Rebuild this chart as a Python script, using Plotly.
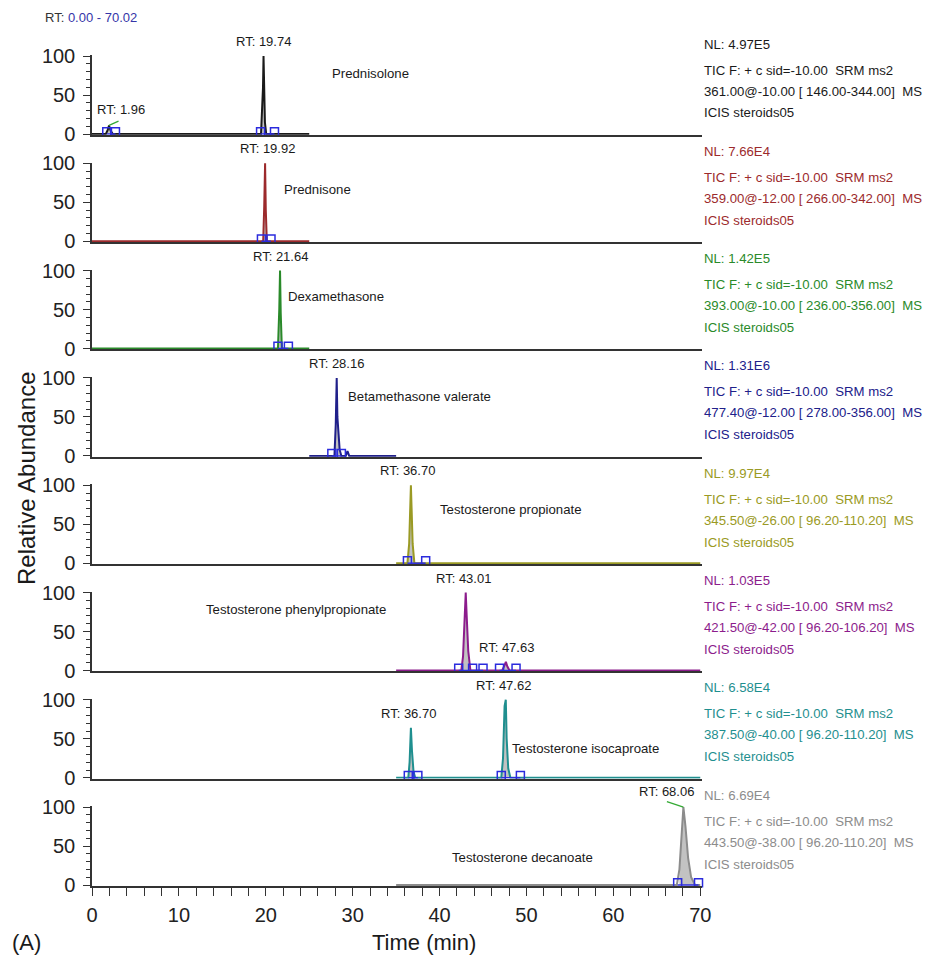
import plotly.graph_objects as go
from plotly.subplots import make_subplots

# ---------------- data ----------------
compounds = ["Prednisolone", "Prednisone", "Dexamethasone", "Betamethasone valerate",
             "Testosterone propionate", "Testosterone phenylpropionate",
             "Testosterone isocaproate", "Testosterone decanoate"]

nl_values = ["NL: 4.97E5", "NL: 7.66E4", "NL: 1.42E5", "NL: 1.31E6",
             "NL: 9.97E4", "NL: 1.03E5", "NL: 6.58E4", "NL: 6.69E4"]
tic_line = "TIC F: + c sid=-10.00  SRM ms2"
srm_lines = ["361.00@-10.00 [ 146.00-344.00]  MS",
             "359.00@-12.00 [ 266.00-342.00]  MS",
             "393.00@-10.00 [ 236.00-356.00]  MS",
             "477.40@-12.00 [ 278.00-356.00]  MS",
             "345.50@-26.00 [ 96.20-110.20]  MS",
             "421.50@-42.00 [ 96.20-106.20]  MS",
             "387.50@-40.00 [ 96.20-110.20]  MS",
             "443.50@-38.00 [ 96.20-110.20]  MS"]
file_line = "ICIS steroids05"

time_1 = [0, 1.60, 1.80, 1.96, 2.15, 2.40, 19.45, 19.60, 19.68, 19.74, 19.80, 19.90, 20.05, 25.0]
abund_1 = [0, 0, 5, 11, 4, 0, 0, 35, 60, 100, 45, 15, 0, 0]
time_2 = [0, 19.70, 19.82, 19.92, 20.00, 20.12, 25.0]
abund_2 = [0, 0, 45, 100, 40, 0, 0]
time_3 = [0, 21.40, 21.55, 21.64, 21.72, 21.85, 25.0]
abund_3 = [0, 0, 50, 100, 45, 0, 0]
time_4 = [25.0, 27.90, 28.05, 28.16, 28.24, 28.35, 28.50, 28.70, 29.20, 29.40, 29.60, 35.0]
abund_4 = [0, 0, 40, 100, 50, 25, 8, 0, 0, 6, 0, 0]
time_5 = [35.0, 36.30, 36.50, 36.62, 36.70, 36.78, 36.90, 37.10, 70.0]
abund_5 = [0, 0, 25, 75, 100, 70, 25, 0, 0]
time_6 = [35.0, 42.50, 42.70, 42.88, 43.01, 43.12, 43.30, 43.55, 47.20, 47.45, 47.63, 47.80, 48.05, 70.0]
abund_6 = [0, 0, 18, 75, 100, 70, 25, 0, 0, 6, 11, 5, 0, 0]
time_7 = [35.0, 36.40, 36.55, 36.70, 36.82, 37.00, 37.20, 47.10, 47.30, 47.48, 47.62, 47.72, 47.90, 48.15, 70.0]
abund_7 = [0, 0, 20, 64, 35, 8, 0, 0, 25, 92, 100, 50, 12, 0, 0]
time_8 = [35.0, 67.30, 67.60, 67.85, 68.06, 68.30, 68.60, 68.95, 69.40, 70.0]
abund_8 = [0, 0, 20, 65, 100, 75, 35, 10, 0, 0]

times = [time_1, time_2, time_3, time_4, time_5, time_6, time_7, time_8]
abunds = [abund_1, abund_2, abund_3, abund_4, abund_5, abund_6, abund_7, abund_8]

# peak integration windows (start, end) in min
integration_windows = [
    [(1.7, 2.7), (19.4, 21.0)],
    [(19.5, 20.6)],
    [(21.4, 22.6)],
    [(27.6, 28.7)],
    [(36.3, 38.4)],
    [(42.2, 45.0), (46.9, 48.8)],
    [(36.4, 37.5), (47.1, 49.3)],
    [(67.4, 69.8)],
]
boundary_times = [
    [1.7, 2.7, 19.4, 21.0],
    [19.5, 20.6],
    [21.4, 22.6],
    [27.6, 28.7],
    [36.3, 38.4],
    [42.2, 43.8, 45.0, 46.9, 48.8],
    [36.4, 37.5, 47.1, 49.3],
    [67.4, 69.8],
]

label_panel = [1, 1, 2, 3, 4, 5, 6, 6, 7, 7, 8]
label_rt = [1.96, 19.74, 19.92, 21.64, 28.16, 36.70, 43.01, 47.63, 36.70, 47.62, 68.06]

name_x = [32.1, 25.9, 28.1, 37.7, 48.2, 23.5, 56.8, 49.5]
name_y = [77, 67, 67, 76, 69, 78, 38, 35]

x_ticks = [0, 10, 20, 30, 40, 50, 60, 70]
y_ticks = [0, 50, 100]

# ---------------- style ----------------
colors = ["#1a1a1a", "#9c2a2c", "#2a8a2a", "#20208a",
          "#9a9a24", "#8c1c8c", "#1f8f8f", "#8c8c8c"]
FONT = "Liberation Sans, Arial, Helvetica, sans-serif"
OFF = 8  # default page body margin
W, H = 931 - OFF, 961 - OFF
ML, MR, MT, MB = 92 - OFF, 229, 40 - OFF, 75
plot_h = H - MT - MB
bottom_page = H - MB + OFF  # page px of plot-area bottom
K = 0.78  # px per abundance unit


def pfrac(px):
    """page pixel (y) -> paper fraction"""
    return (bottom_page - px) / plot_h


def xfrac(px):
    """page pixel (x) -> paper fraction"""
    return (px - (ML + OFF)) / (W - ML - MR)


y0_px = [134 + 107.3 * i for i in range(8)]
label_dx = [12, 0, 2, 0, 0, -3, -2, 1, -2, -2, -17]
label_dy = [6, 5, 5, 5, 5, 5, 5, 5, 5, 5, 6]
label_leader = [(11, -5), None, None, None, None, None, None, None, None, None, (-18, -6)]

fig = make_subplots(rows=8, cols=1, shared_xaxes=True, vertical_spacing=0.01)

for i in range(8):
    r = i + 1
    t, a = times[i], abunds[i]
    for (s, e) in integration_windows[i]:
        xs = [tt for tt, aa in zip(t, a) if s <= tt <= e]
        ys = [aa for tt, aa in zip(t, a) if s <= tt <= e]
        fig.add_trace(go.Scatter(x=xs, y=ys, mode="lines", fill="tozeroy",
                                 fillcolor="#c2c2c2", line=dict(width=0),
                                 hoverinfo="skip", showlegend=False), row=r, col=1)
    fig.add_trace(go.Scatter(x=t, y=a, mode="lines",
                             line=dict(color=colors[i], width=2),
                             showlegend=False), row=r, col=1)
    bx, by = [], []
    for (s, e) in integration_windows[i]:
        bx += [s, e, None]
        by += [0, 0, None]
    fig.add_trace(go.Scatter(x=bx, y=by, mode="lines",
                             line=dict(color="#2b2bdd", width=1.5),
                             hoverinfo="skip", showlegend=False), row=r, col=1)
    fig.add_trace(go.Scatter(x=boundary_times[i], y=[3] * len(boundary_times[i]),
                             mode="markers", cliponaxis=False,
                             marker=dict(symbol="square-open", size=8,
                                         color="#2b2bdd", line=dict(width=1.5)),
                             hoverinfo="skip", showlegend=False), row=r, col=1)

for i in range(8):
    r = i + 1
    y0 = y0_px[i]
    dom = [pfrac(y0 + 1 * K), pfrac(y0 - 101 * K)]
    fig.update_yaxes(row=r, col=1, domain=dom, range=[-1, 101],
                     tickvals=y_ticks, ticks="outside", ticklen=7, tickwidth=1.3,
                     tickcolor="#333", minor=dict(dtick=10, tick0=0, ticks="outside",
                                                  ticklen=4, tickcolor="#333", tickwidth=1),
                     showline=True, linecolor="#333", linewidth=1.5,
                     showgrid=False, zeroline=False,
                     tickfont=dict(size=20, color="#222", family=FONT),
                     ticklabelstandoff=4)
    fig.update_xaxes(row=r, col=1, range=[0, 70.2], showline=True, linecolor="#333",
                     linewidth=1.6, showgrid=False, zeroline=False,
                     ticks="", showticklabels=False)

fig.update_xaxes(row=8, col=1, tickvals=x_ticks, ticks="outside", ticklen=8,
                 tickwidth=1.3, tickcolor="#333", showticklabels=True,
                 minor=dict(dtick=2, tick0=0, ticks="outside", ticklen=8,
                            tickcolor="#333", tickwidth=1.3),
                 tickfont=dict(size=20, color="#222", family=FONT),
                 ticklabelstandoff=2)

annotations = []
for i in range(8):
    y100 = y0_px[i] - 100 * K
    lines = [(nl_values[i], y100 - 12), (tic_line, y100 + 14),
             (srm_lines[i], y100 + 35), (file_line, y100 + 57)]
    for txt, px in lines:
        annotations.append(dict(xref="paper", yref="paper", x=1.0, y=pfrac(px),
                                xanchor="left", yanchor="middle", showarrow=False,
                                text=txt.replace("  ", "\u00a0\u00a0"),
                                font=dict(size=13.2, color=colors[i], family=FONT)))
    yname = "y" if i == 0 else f"y{i + 1}"
    xname = "x" if i == 0 else f"x{i + 1}"
    annotations.append(dict(xref=xname, yref=yname, x=name_x[i], y=name_y[i],
                            xanchor="center", yanchor="middle",
                            showarrow=False, text=compounds[i],
                            font=dict(size=13.2, color="#1a1a1a", family=FONT)))

for j, (p, rt) in enumerate(zip(label_panel, label_rt)):
    t, a = times[p - 1], abunds[p - 1]
    idx = min(range(len(t)), key=lambda k: abs(t[k] - rt))
    top = a[idx]
    yname = "y" if p == 1 else f"y{p}"
    xname = "x" if p == 1 else f"x{p}"
    annotations.append(dict(xref=xname, yref=yname, x=rt, y=top, showarrow=False,
                            xanchor="center", yanchor="bottom",
                            xshift=label_dx[j], yshift=label_dy[j],
                            text=f"RT: {rt:.2f}",
                            font=dict(size=13, color="#1a1a1a", family=FONT)))
    if label_leader[j] is not None:
        ax, ay = label_leader[j]
        annotations.append(dict(xref=xname, yref=yname, x=rt, y=top, text="",
                                showarrow=True, arrowhead=0, arrowwidth=1.2,
                                arrowcolor="#33aa33", ax=ax, ay=ay, standoff=0))

annotations.append(dict(xref="paper", yref="paper", x=xfrac(43), y=pfrac(17),
                        xanchor="left", yanchor="middle", showarrow=False,
                        text="RT: <span style='color:#3535a8'>0.00 - 70.02</span>",
                        font=dict(size=13, color="#333", family=FONT)))
annotations.append(dict(xref="paper", yref="paper", x=xfrac(26), y=pfrac(478),
                        xanchor="center", yanchor="middle",
                        textangle=-90, showarrow=False, text="Relative Abundance",
                        font=dict(size=24, color="#1a1a1a", family=FONT)))
annotations.append(dict(xref="paper", yref="paper", x=xfrac(424), y=pfrac(942),
                        xanchor="center", yanchor="middle",
                        showarrow=False, text="Time (min)",
                        font=dict(size=22, color="#1a1a1a", family=FONT)))
annotations.append(dict(xref="paper", yref="paper", x=xfrac(26), y=pfrac(942),
                        xanchor="center", yanchor="middle",
                        showarrow=False, text="(A)",
                        font=dict(size=22, color="#1a1a1a", family=FONT)))

fig.update_layout(width=W, height=H, margin=dict(l=ML, r=MR, t=MT, b=MB),
                  plot_bgcolor="white", paper_bgcolor="white",
                  font=dict(family=FONT), annotations=annotations,
                  showlegend=False)

fig.write_html("out.html")
